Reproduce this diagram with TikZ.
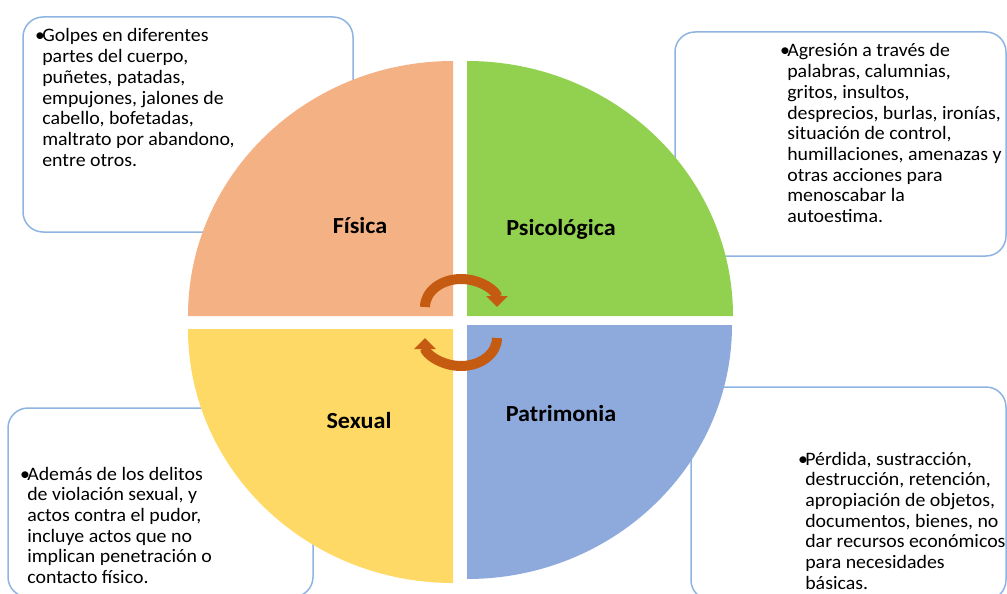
\documentclass[tikz,border=0pt]{standalone}
\usepackage{fontspec}
\usepackage{graphicx}
\setmainfont{Carlito}
\usetikzlibrary{arrows.meta,calc}
\definecolor{cOrange}{HTML}{F4B183}
\definecolor{cGreen}{HTML}{92D050}
\definecolor{cYellow}{HTML}{FFD966}
\definecolor{cBlue}{HTML}{8EA9DB}
\definecolor{cArrow}{HTML}{C55A11}
\definecolor{cBorder}{HTML}{8DB4E2}
\newcommand\bulletblock[1]{\scalebox{1.045}[1]{\makebox[7pt][l]{\textbullet}\begin{tabular}[t]{@{}l@{}}#1\end{tabular}}}
\newcommand\seglabeltext[1]{\scalebox{1.05}[1]{#1}}
\begin{document}
\begin{tikzpicture}[x=1pt,y=1pt,
  infobox/.style={draw=cBorder, line width=1.5pt, fill=white, rounded corners=20pt,
    inner sep=0pt, outer sep=0pt, rectangle},
  bodytext/.style={inner sep=0pt, outer sep=0pt, anchor=base west, text=black,
    font=\fontsize{19}{20.7}\selectfont},
  seglabel/.style={inner sep=0pt, anchor=base, text=black,
    font=\bfseries\fontsize{23}{27}\selectfont},
  cycarrow/.style={draw=cArrow, line width=10pt, -{Triangle[width=21pt,length=11pt]}}
]
\useasboundingbox (0,0) rectangle (1007,-594);
\fill[white] (0,0) rectangle (1007,-594);

% text boxes (behind the circle)
\node[infobox, minimum width=330pt, minimum height=215pt] (b1) at (188,-124.5) {};
\node[infobox, minimum width=331pt, minimum height=224pt] (b2) at (840.5,-144) {};
\node[infobox, minimum width=305pt, minimum height=189pt] (b3) at (160.5,-502.5) {};
\node[infobox, minimum width=315pt, minimum height=213pt] (b4) at (848.5,-493.5) {};

% quadrants
\fill[cOrange] (453,-316) -- (188,-316) arc[start angle=180, end angle=90, x radius=265pt, y radius=255pt] -- cycle;
\fill[cGreen] (467,-316) -- (467,-61) arc[start angle=90, end angle=0, x radius=266pt, y radius=255pt] -- cycle;
\fill[cYellow] (453,-329) -- (188,-329) arc[start angle=180, end angle=270, x radius=265pt, y radius=254pt] -- cycle;
\fill[cBlue] (467,-325) -- (732,-325) arc[start angle=0, end angle=-90, x radius=265pt, y radius=254pt] -- cycle;

% labels
\node[seglabel] (lf) at (360,-233) {\seglabeltext{Física}};
\node[seglabel] (lp) at (561,-235) {\seglabeltext{Psicológica}};
\node[seglabel] (ls) at (359,-428) {\seglabeltext{Sexual}};
\node[seglabel] (lt) at (561,-421) {\seglabeltext{Patrimonia}};

% cycle arrows
\coordinate (ac1) at (461,-307);
\coordinate (ac2) at (461,-338);
\draw[cycarrow] ($(ac1)+(-36,0)$) arc[start angle=180, end angle=0, x radius=36pt, y radius=28pt];
\draw[cycarrow] ($(ac2)+(36,0)$) arc[start angle=0, end angle=-180, x radius=36pt, y radius=28pt];

% texts
\node[bodytext] (t1) at (35,-42) {\bulletblock{Golpes en diferentes\\partes del cuerpo,\\puñetes, patadas,\\empujones, jalones de\\cabello, bofetadas,\\maltrato por abandono,\\entre otros.}};
\node[bodytext] (t2) at (780,-57) {\bulletblock{Agresión a través de\\palabras, calumnias,\\gritos, insultos,\\desprecios, burlas, ironías,\\situación de control,\\humillaciones, amenazas y\\otras acciones para\\menoscabar la\\autoestima.}};
\node[bodytext] (t3) at (20,-480) {\bulletblock{Además de los delitos\\de violación sexual, y\\actos contra el pudor,\\incluye actos que no\\implican penetración o\\contacto físico.}};
\node[bodytext] (t4) at (798,-465) {\bulletblock{Pérdida, sustracción,\\destrucción, retención,\\apropiación de objetos,\\documentos, bienes, no\\dar recursos económicos\\para necesidades\\básicas.}};
\end{tikzpicture}
\end{document}
